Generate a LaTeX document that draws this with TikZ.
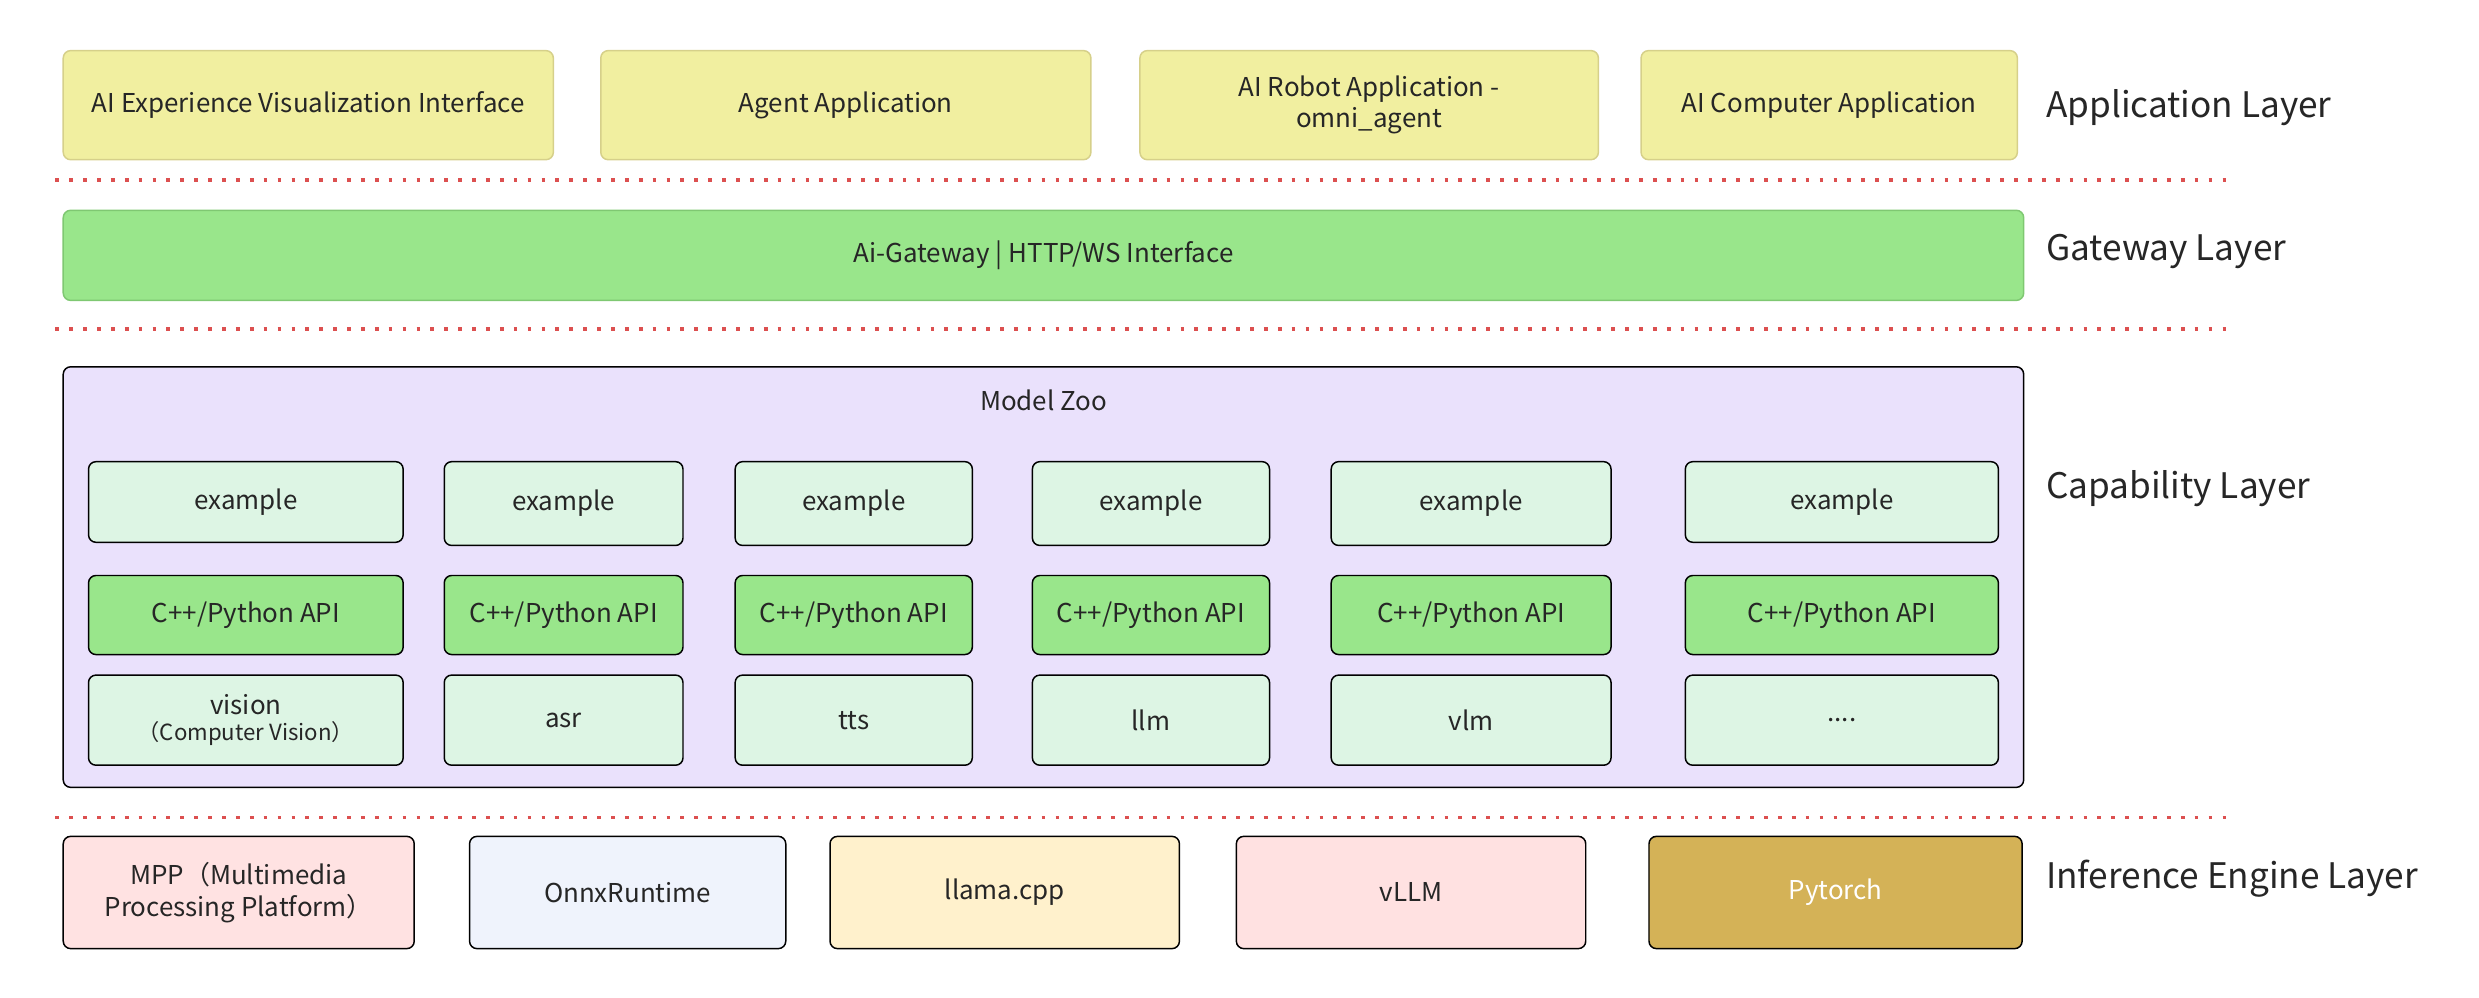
\documentclass[tikz,border=0pt]{standalone}
\usepackage{fontspec}
\setmainfont{Noto Sans CJK SC}
\definecolor{appfill}{HTML}{F1EFA0}\definecolor{appdraw}{HTML}{D6D08A}
\definecolor{gwfill}{HTML}{99E68B}\definecolor{gwdraw}{HTML}{7FC872}
\definecolor{zoofill}{HTML}{EAE1FC}\definecolor{cellfill}{HTML}{DDF5E4}
\definecolor{apifill}{HTML}{99E68B}\definecolor{sepred}{HTML}{DC5050}
\definecolor{ia}{HTML}{FFE2E2}\definecolor{ib}{HTML}{EFF3FC}
\definecolor{ic}{HTML}{FFF1CC}\definecolor{id}{HTML}{FFE1E1}
\definecolor{ie}{HTML}{D4B257}
\begin{document}
\begin{tikzpicture}[x={(0.03cm,0)},y={(0,-0.03cm)},
 base/.style={draw,rounded corners=4pt,line width=0.8pt,font=\fontsize{14}{17}\selectfont,text=black!85,align=center},
 app/.style={base,fill=appfill,draw=appdraw},
 cell/.style={base,fill=cellfill,draw=black},
 api/.style={base,fill=apifill,draw=black},
 lay/.style={anchor=west,font=\fontsize{19}{22}\selectfont,text=black!85},
 sep/.style={draw=sepred,line width=2pt,dash pattern=on 2pt off 5.5pt}]
\useasboundingbox (0,0) rectangle (1568,631);
\newcommand\bx[6]{\node[#1,minimum width={(#4-#3)*0.03cm},minimum height={(#6-#5)*0.03cm},inner sep=0pt] (#2) at ({(#3+#4)/2},{(#5+#6)/2})}
\bx{app}{a1}{40}{350}{32}{101}{AI Experience Visualization Interface};
\bx{app}{a2}{380}{690}{32}{101}{Agent Application};
\bx{app}{a3}{721}{1011}{32}{101}{AI Robot Application -\\omni\_agent};
\bx{app}{a4}{1038}{1276}{32}{101}{AI Computer Application};
\coordinate (s1a) at (35,114);\coordinate (s1b) at (1410,114);
\draw[sep] (s1a)--(s1b);
\bx{base,fill=gwfill,draw=gwdraw}{gw}{40}{1280}{133}{190}{Ai-Gateway | HTTP/WS Interface};
\coordinate (s2a) at (35,208);\coordinate (s2b) at (1410,208);
\draw[sep] (s2a)--(s2b);
\bx{base,fill=zoofill,draw=black}{zoo}{40}{1280}{232}{498}{};
\node[font=\fontsize{14}{17}\selectfont,text=black!85] (zt) at (660,253) {Model Zoo};
\bx{cell}{e1}{56}{255}{292}{343}{example};
\bx{cell}{e2}{281}{432}{292}{345}{example};
\bx{cell}{e3}{465}{615}{292}{345}{example};
\bx{cell}{e4}{653}{803}{292}{345}{example};
\bx{cell}{e5}{842}{1019}{292}{345}{example};
\bx{cell}{e6}{1066}{1264}{292}{343}{example};
\bx{api}{p1}{56}{255}{364}{414}{C++/Python API};
\bx{api}{p2}{281}{432}{364}{414}{C++/Python API};
\bx{api}{p3}{465}{615}{364}{414}{C++/Python API};
\bx{api}{p4}{653}{803}{364}{414}{C++/Python API};
\bx{api}{p5}{842}{1019}{364}{414}{C++/Python API};
\bx{api}{p6}{1066}{1264}{364}{414}{C++/Python API};
\bx{cell}{m1}{56}{255}{427}{484}{vision\\[-3pt]{\fontsize{12}{14}\selectfont（Computer Vision）}};
\bx{cell}{m2}{281}{432}{427}{484}{asr};
\bx{cell}{m3}{465}{615}{427}{484}{tts};
\bx{cell}{m4}{653}{803}{427}{484}{llm};
\bx{cell}{m5}{842}{1019}{427}{484}{vlm};
\bx{cell}{m6}{1066}{1264}{427}{484}{....};
\coordinate (s3a) at (35,517);\coordinate (s3b) at (1410,517);
\draw[sep] (s3a)--(s3b);
\bx{base,fill=ia}{i1}{40}{262}{529}{600}{MPP（Multimedia\\Processing Platform）};
\bx{base,fill=ib}{i2}{297}{497}{529}{600}{OnnxRuntime};
\bx{base,fill=ic}{i3}{525}{746}{529}{600}{llama.cpp};
\bx{base,fill=id}{i4}{782}{1003}{529}{600}{vLLM};
\bx{base,fill=ie,text=white}{i5}{1043}{1279}{529}{600}{Pytorch};
\node[lay] (l1) at (1290,68) {Application Layer};
\node[lay] (l2) at (1290,159) {Gateway Layer};
\node[lay] (l3) at (1290,309) {Capability Layer};
\node[lay] (l4) at (1290,556) {Inference Engine Layer};
\end{tikzpicture}
\end{document}
